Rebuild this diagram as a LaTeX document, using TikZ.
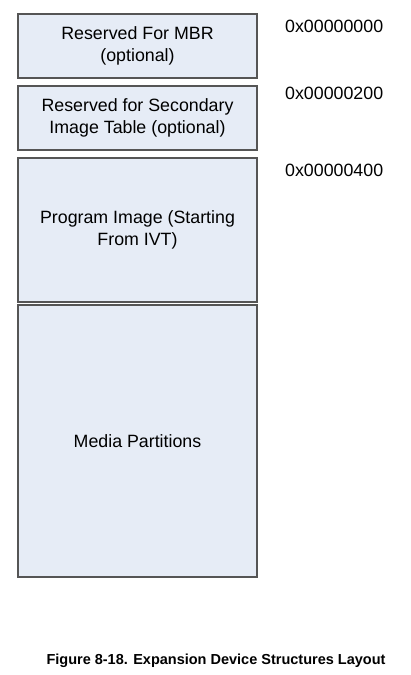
\documentclass[tikz,border=0pt]{standalone}
\usepackage{fontspec}
\setmainfont{Liberation Sans}
\definecolor{boxfill}{HTML}{E6ECF6}
\definecolor{boxline}{HTML}{555555}
\begin{document}
\begin{tikzpicture}[x=1pt,y=-1pt,
  region/.style={draw=boxline,fill=boxfill,line width=1.2pt,align=center,minimum width=239pt,inner sep=0pt,font=\fontsize{17.8}{21.5}\selectfont},
  addr/.style={anchor=west,font=\fontsize{17.8}{21.5}\selectfont,inner sep=0pt}]
\useasboundingbox (0,0) rectangle (410,675);
\fill[white] (0,0) rectangle (410,675);
\node[region,minimum height=64pt] (mbr) at (137.5,46) {Reserved For MBR\\(optional)};
\node[region,minimum height=64pt] (sit) at (137.5,118) {Reserved for Secondary\\Image Table (optional)};
\node[region,minimum height=144pt] (prog) at (137.5,230) {Program Image (Starting\\From IVT)};
\node[region,minimum height=272pt] (media) at (137.5,441) {Media Partitions};
\node[addr] (a0) at (285,26) {0x00000000};
\node[addr] (a1) at (285,93) {0x00000200};
\node[addr] (a2) at (285,170) {0x00000400};
\node[font=\bfseries\fontsize{14.5}{17}\selectfont] (cap) at (216,661) {Figure 8-18. Expansion Device Structures Layout};
\end{tikzpicture}
\end{document}
